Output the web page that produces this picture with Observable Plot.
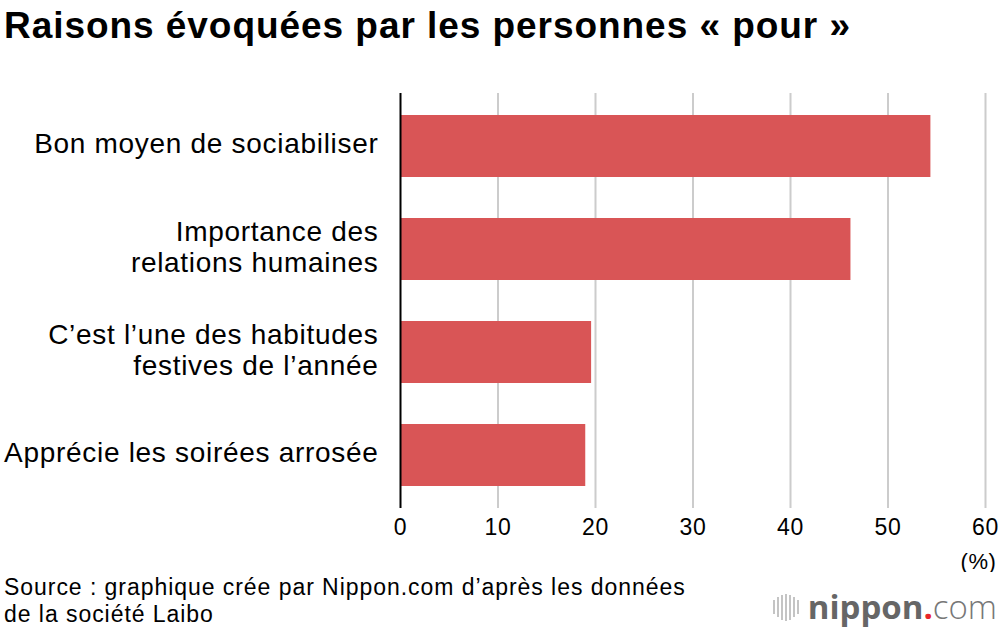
<!DOCTYPE html>
<html>
<head>
<meta charset="utf-8">
<script src="https://cdn.jsdelivr.net/npm/d3@7"></script>
<script src="https://cdn.jsdelivr.net/npm/@observablehq/plot@0.6"></script>
<style>
  html, body { margin: 0; padding: 0; background: #fff; }
  body { width: 1000px; height: 630px; position: relative; overflow: hidden; font-family: "Liberation Sans", Arial, sans-serif; color: #000; }
  #title { position: absolute; left: 4px; top: 7px; font-size: 37px; line-height: 37px; font-weight: bold; white-space: nowrap; letter-spacing: 0.95px; }
  #chart { position: absolute; left: 0; top: 62px; }
  #chart text { letter-spacing: 0.6px; }
  #chart .ylab text { letter-spacing: 0.7px; }
  #source { position: absolute; left: 4px; top: 574px; font-size: 23px; line-height: 27px; letter-spacing: 0.95px; white-space: nowrap; }
  #logo { position: absolute; right: 3px; top: 587px; font-family: "Open Sans", "Liberation Sans", sans-serif; font-size: 33px; line-height: 40px; color: #6b6b6b; white-space: nowrap; display: flex; align-items: center; }
  #logo .bars { display: inline-flex; align-items: center; gap: 2px; margin-right: 9px; }
  #logo .bars span { display: inline-block; width: 2px; background: #c4c4c4; }
  #logo b { font-weight: 700; color: #666; }
  #logo .dot { color: #e8262a; font-weight: 700; }
  #logo .com { font-weight: 300; color: #777; }
</style>
</head>
<body>
<div id="title">Raisons évoquées par les personnes « pour »</div>
<div id="chart"></div>
<div id="source">Source : graphique crée par Nippon.com d’après les données<br>de la société Laibo</div>
<div id="logo"><span class="bars"><span style="height:14px"></span><span style="height:20px"></span><span style="height:25px"></span><span style="height:27px"></span><span style="height:25px"></span><span style="height:20px"></span><span style="height:14px"></span></span><b>nippon</b><span class="dot">.</span><span class="com">com</span></div>
<script>
const categories = [
  "Bon moyen de sociabiliser",
  "Importance des\nrelations humaines",
  "C’est l’une des habitudes\nfestives de l’année",
  "Apprécie les soirées arrosée"
];
const values = [54.4, 46.2, 19.6, 19.0];
const xTicks = [0, 10, 20, 30, 40, 50, 60];
const gridTicks = [10, 20, 30, 40, 50, 60];

const data = categories.map((c, i) => ({category: c, value: values[i]}));

const chart = Plot.plot({
  width: 1000,
  height: 510,
  marginLeft: 400,
  marginRight: 15,
  marginTop: 31,
  marginBottom: 64,
  style: {fontFamily: "Liberation Sans, Arial, sans-serif", fontSize: "22px", color: "#000", background: "#fff"},
  x: {domain: [0, 60], ticks: xTicks, label: null},
  y: {domain: categories, paddingInner: 0.4, paddingOuter: 0.2, label: null, axis: null},
  marks: [
    Plot.ruleX(gridTicks, {stroke: "#cccccc", strokeWidth: 2}),
    Plot.barX(data, {x: "value", y: "category", fill: "#d95556"}),
    Plot.ruleX([0], {stroke: "#000", strokeWidth: 2}),
    Plot.text(data, {x: 0, y: "category", text: "category", textAnchor: "end", dx: -22, dy: -3, lineHeight: 1.1, fontSize: 28, fill: "#000", className: "ylab"}),
    Plot.axisX(xTicks, {tickSize: 0, tickPadding: 10, fontSize: 23, label: null}),
    Plot.text(["(%)"], {frameAnchor: "bottom-right", dy: 60, dx: 11, fontSize: 22, textAnchor: "end", fill: "#000"})
  ]
});
document.getElementById("chart").appendChild(chart);
</script>
</body>
</html>
